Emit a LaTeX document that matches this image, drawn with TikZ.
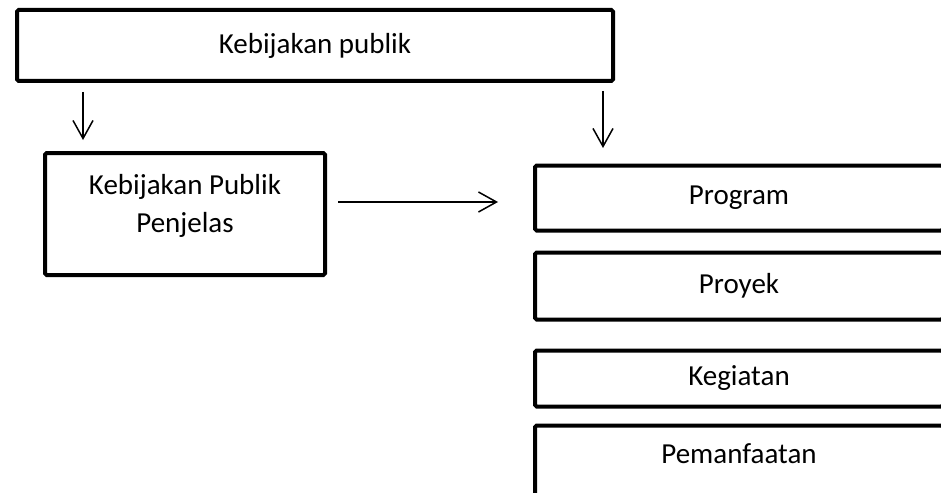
\documentclass[tikz,border=0pt]{standalone}
\usepackage{fontspec}
\setmainfont{Carlito}
\usetikzlibrary{arrows.meta,positioning}
\tikzset{
  kotak/.style={draw=black,line width=2pt,rounded corners=0.8pt,inner sep=0pt,align=center,
    font=\fontsize{14.5}{19}\selectfont},
  kanan/.style={kotak,minimum width=204pt},
  panah/.style={-{Straight Barb[length=9pt,width=10pt]},line width=0.75pt}
}

\begin{document}
\begin{tikzpicture}[x=0.5pt,y=-0.5pt]
\useasboundingbox (0,0) rectangle (941,492);
\node[kotak,minimum width=298pt,minimum height=35.5pt] (kp) at (315,45.5) {Kebijakan publik};
\node[kotak,minimum width=140pt,minimum height=61pt,text depth=11pt] (kpp) at (185,214) {Kebijakan Publik\\Penjelas};
\node[kanan,minimum height=32.5pt] (prog) at (739,198) {Program};
\node[kanan,minimum height=33.5pt] (proy) at (739,286) {Proyek};
\node[kanan,minimum height=28pt] (keg) at (739,378.5) {Kegiatan};
\node[kanan,minimum height=37.5pt,text depth=9pt] (pem) at (739,463) {Pemanfaatan};
\coordinate (a1) at (83,0);
\coordinate (a2) at (603,0);
\coordinate (a3) at (0,202);
\draw[panah,shorten <=4.5pt,shorten >=5.5pt] (kp.south -| a1) -- (kpp.north -| a1);
\draw[panah,shorten <=4pt,shorten >=7.75pt] (kp.south -| a2) -- (prog.north -| a2);
\draw[panah,shorten <=5.5pt,shorten >=17.5pt] (kpp.east |- a3) -- (prog.west |- a3);
\end{tikzpicture}
\end{document}
